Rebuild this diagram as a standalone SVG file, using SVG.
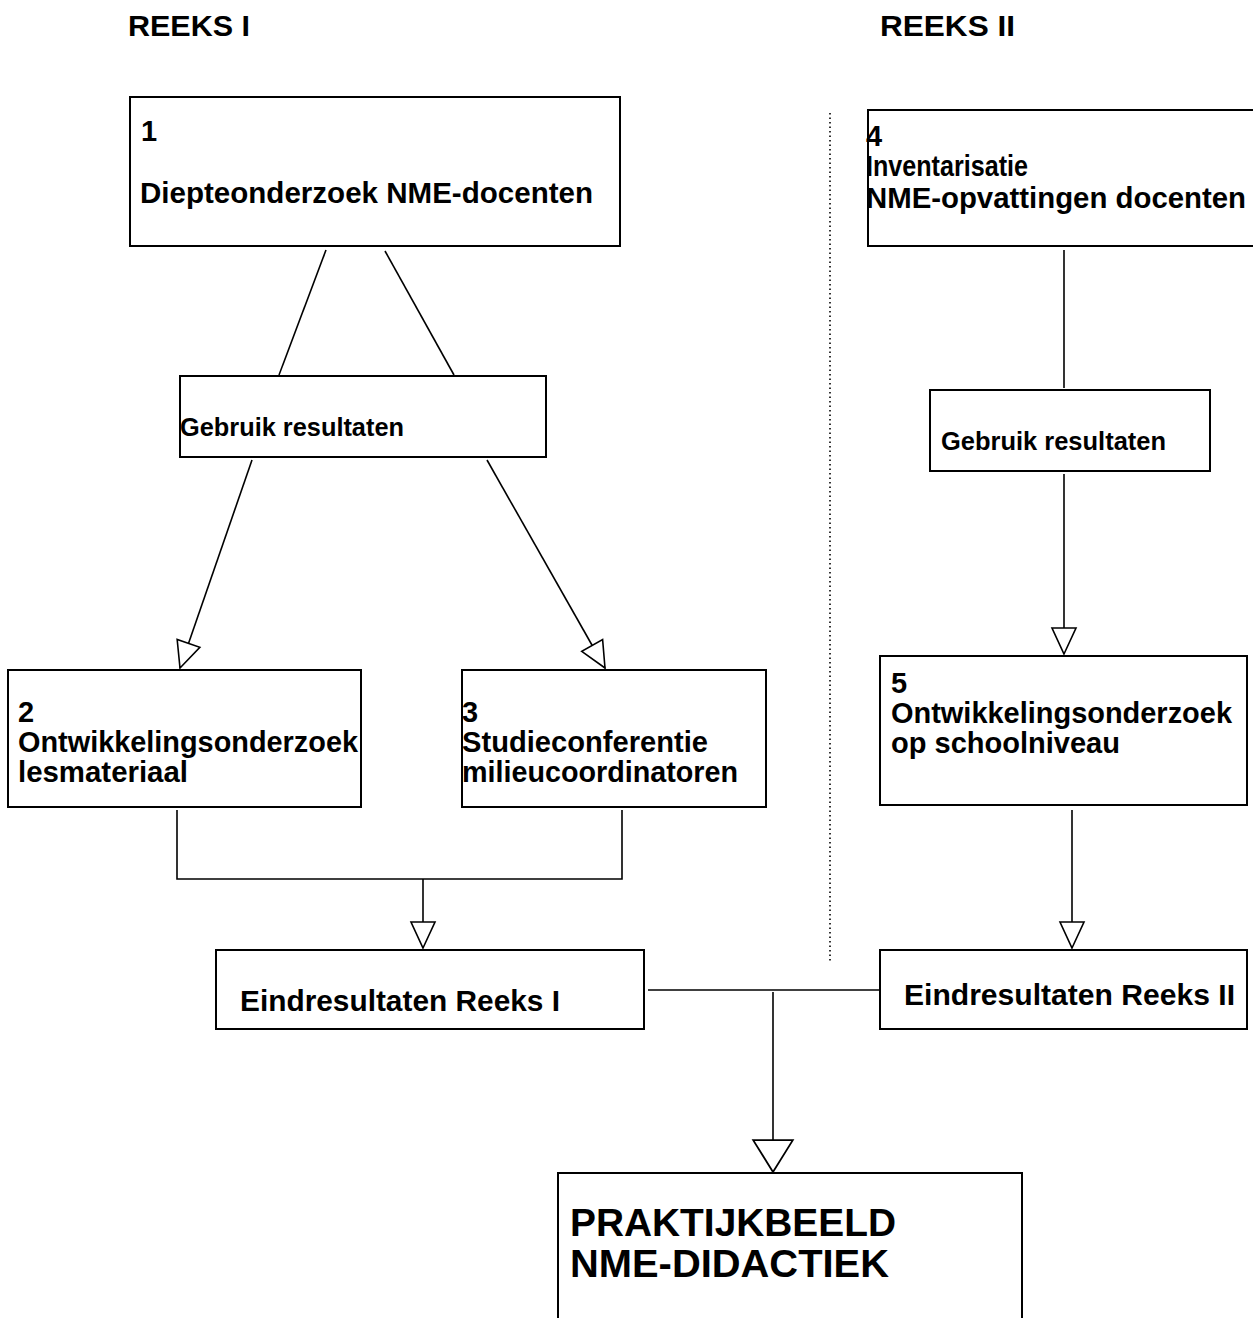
<svg xmlns="http://www.w3.org/2000/svg" width="1253" height="1318" viewBox="0 0 1253 1318">
<style>
.box{fill:#fff;stroke:#000;stroke-width:2}
.ln{fill:none;stroke:#000;stroke-width:1.6}
.t{font-family:"Liberation Sans",Arial,sans-serif;font-weight:bold;fill:#000}
.h{font-size:30px}
.m{font-size:29px}
.s{font-size:25px}
.b{font-size:39px}
</style>
<defs>
<marker id="ah" markerUnits="userSpaceOnUse" markerWidth="30" markerHeight="30" viewBox="-28 -14 30 28" refX="0" refY="0" orient="auto">
<path d="M0,0 L-26,-12 L-26,12 Z" fill="#fff" stroke="#000" stroke-width="1.6"/>
</marker>
<marker id="ahb" markerUnits="userSpaceOnUse" markerWidth="40" markerHeight="44" viewBox="-32 -20 34 40" refX="0" refY="0" orient="auto">
<path d="M0,0 L-29,-18 L-29,18 Z" fill="#fff" stroke="#000" stroke-width="1.6"/>
</marker>
</defs>
<rect width="1253" height="1318" fill="#fff"/>
<text class="t h" x="128" y="36" textLength="122" lengthAdjust="spacingAndGlyphs">REEKS I</text>
<text class="t h" x="880" y="36" textLength="135" lengthAdjust="spacingAndGlyphs">REEKS II</text>
<g id="connectors">
<line class="ln" x1="830" y1="113" x2="830" y2="962" stroke-dasharray="1.5 3"/>
<line class="ln" x1="326" y1="250" x2="279" y2="375"/>
<line class="ln" x1="385" y1="251" x2="454" y2="375"/>
<line class="ln" x1="252" y1="460" x2="180" y2="668" marker-end="url(#ah)"/>
<line class="ln" x1="487" y1="460" x2="605" y2="668" marker-end="url(#ah)"/>
<polyline class="ln" points="177,810 177,879 622,879 622,810"/>
<line class="ln" x1="423" y1="879" x2="423" y2="948" marker-end="url(#ah)"/>
<line class="ln" x1="1064" y1="250" x2="1064" y2="388"/>
<line class="ln" x1="1064" y1="474" x2="1064" y2="654" marker-end="url(#ah)"/>
<line class="ln" x1="1072" y1="810" x2="1072" y2="948" marker-end="url(#ah)"/>
<line class="ln" x1="648" y1="990" x2="880" y2="990"/>
<line class="ln" x1="773" y1="992" x2="773" y2="1172" marker-end="url(#ahb)"/>
</g>
<g id="n1">
<rect class="box" x="130" y="97" width="490" height="149"/>
<text class="t m" x="141" y="141">1</text>
<text class="t m" x="140" y="203" textLength="453" lengthAdjust="spacingAndGlyphs">Diepteonderzoek NME-docenten</text>
</g>
<g id="n4">
<rect class="box" x="868" y="110" width="400" height="136"/>
<text class="t m" x="866" y="146">4</text>
<text class="t m" x="866" y="176" textLength="162" lengthAdjust="spacingAndGlyphs">Inventarisatie</text>
<text class="t m" x="866" y="208" textLength="380" lengthAdjust="spacingAndGlyphs">NME-opvattingen docenten</text>
</g>
<g id="g1">
<rect class="box" x="180" y="376" width="366" height="81"/>
<text class="t s" x="180" y="436" textLength="224" lengthAdjust="spacingAndGlyphs">Gebruik resultaten</text>
</g>
<g id="g2">
<rect class="box" x="930" y="390" width="280" height="81"/>
<text class="t s" x="941" y="450" textLength="225" lengthAdjust="spacingAndGlyphs">Gebruik resultaten</text>
</g>
<g id="n2">
<rect class="box" x="8" y="670" width="353" height="137"/>
<text class="t m" x="18" y="722">2</text>
<text class="t m" x="18" y="752" textLength="340" lengthAdjust="spacingAndGlyphs">Ontwikkelingsonderzoek</text>
<text class="t m" x="18" y="782" textLength="170" lengthAdjust="spacingAndGlyphs">lesmateriaal</text>
</g>
<g id="n3">
<rect class="box" x="462" y="670" width="304" height="137"/>
<text class="t m" x="462" y="722">3</text>
<text class="t m" x="462" y="752" textLength="246" lengthAdjust="spacingAndGlyphs">Studieconferentie</text>
<text class="t m" x="462" y="782" textLength="276" lengthAdjust="spacingAndGlyphs">milieucoordinatoren</text>
</g>
<g id="n5">
<rect class="box" x="880" y="656" width="367" height="149"/>
<text class="t m" x="891" y="693">5</text>
<text class="t m" x="891" y="723" textLength="341" lengthAdjust="spacingAndGlyphs">Ontwikkelingsonderzoek</text>
<text class="t m" x="891" y="753" textLength="229" lengthAdjust="spacingAndGlyphs">op schoolniveau</text>
</g>
<g id="e1">
<rect class="box" x="216" y="950" width="428" height="79"/>
<text class="t m" x="240" y="1011" textLength="320" lengthAdjust="spacingAndGlyphs">Eindresultaten Reeks I</text>
</g>
<g id="e2">
<rect class="box" x="880" y="950" width="367" height="79"/>
<text class="t m" x="904" y="1005" textLength="331" lengthAdjust="spacingAndGlyphs">Eindresultaten Reeks II</text>
</g>
<g id="p">
<rect class="box" x="558" y="1173" width="464" height="160"/>
<text class="t b" x="570" y="1236" textLength="326" lengthAdjust="spacingAndGlyphs">PRAKTIJKBEELD</text>
<text class="t b" x="570" y="1277" textLength="319" lengthAdjust="spacingAndGlyphs">NME-DIDACTIEK</text>
</g>
</svg>
